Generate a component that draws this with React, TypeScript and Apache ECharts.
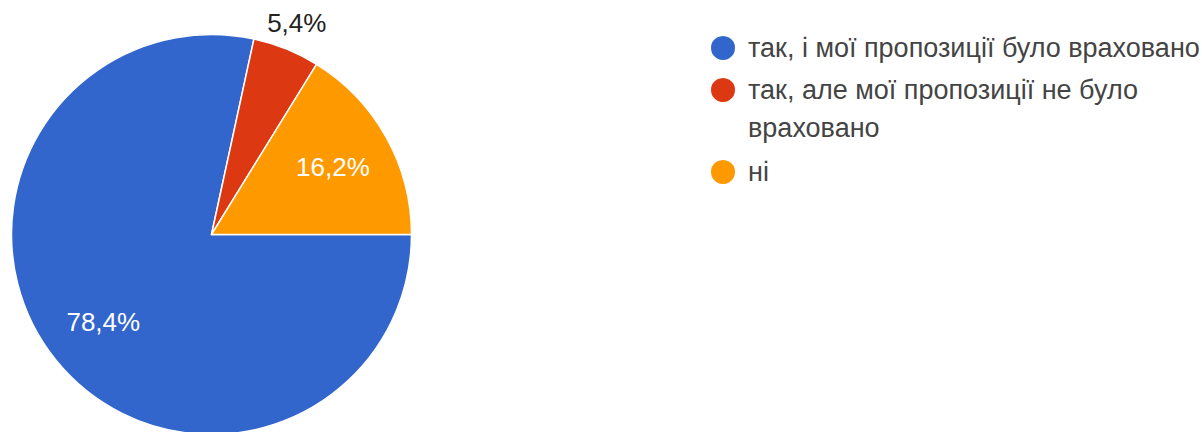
import React, { useEffect, useRef } from "react";
import * as echarts from "echarts";

const categories = [
  "так, і мої пропозиції було враховано",
  "так, але мої пропозиції не було враховано",
  "ні",
];
const percentValues = [78.4, 5.4, 16.2];
const colors = ["#3366CC", "#DC3912", "#FF9900"];

const FONT = "'Liberation Sans', Arial, sans-serif";

export default function App() {
  const ref = useRef<HTMLDivElement>(null);

  useEffect(() => {
    document.body.style.margin = "0";
    if (!ref.current) return;
    const chart = echarts.init(ref.current, undefined, { renderer: "svg" });

    const fmt = (v: number) => v.toFixed(1).replace(".", ",") + "%";
    const center = [211.5, 234.5];
    const R = 200;

    const mainData = categories.map((name, i) => ({
      name,
      value: percentValues[i],
      itemStyle: { color: colors[i] },
    }));

    const helperData = (showIdx: number[]) =>
      categories.map((name, i) => ({
        name,
        value: percentValues[i],
        label: { show: showIdx.includes(i) },
      }));

    const helperBase = {
      type: "pie",
      center,
      startAngle: 0,
      clockwise: true,
      silent: true,
      legendHoverLink: false,
      itemStyle: { color: "rgba(0,0,0,0)", borderWidth: 0 },
      labelLine: { show: false },
      emphasis: { disabled: true },
    };

    const legendCommon = {
      orient: "vertical",
      left: 709,
      padding: 0,
      icon: "circle",
      itemWidth: 40,
      itemHeight: 26,
      selectedMode: false,
      textStyle: {
        fontFamily: FONT,
        fontSize: 27,
        color: "#444444",
        lineHeight: 38,
      },
    };

    chart.setOption({
      animation: false,
      backgroundColor: "#ffffff",
      legend: [
        { ...legendCommon, top: 29, data: [categories[0]] },
        {
          ...legendCommon,
          top: 33,
          data: [categories[1]],
          formatter: () => "\nтак, але мої пропозиції не було\nвраховано",
        },
        { ...legendCommon, top: 153, data: [categories[2]] },
      ],
      series: [
        {
          type: "pie",
          center,
          radius: [0, R],
          startAngle: 0,
          clockwise: true,
          silent: true,
          data: mainData,
          itemStyle: { borderColor: "#ffffff", borderWidth: 1.5 },
          label: { show: false },
          labelLine: { show: false },
        },
        {
          ...helperBase,
          radius: [72, R],
          data: helperData([0, 2]),
          label: {
            position: "inside",
            formatter: (p: any) => fmt(p.value),
            color: "#ffffff",
            fontFamily: FONT,
            fontSize: 26,
          },
        },
        {
          ...helperBase,
          radius: [R, 250],
          data: helperData([1]),
          label: {
            position: "inside",
            formatter: (p: any) => fmt(p.value),
            color: "#222222",
            fontFamily: FONT,
            fontSize: 26,
          },
        },
      ],
    });

    return () => chart.dispose();
  }, []);

  return <div ref={ref} style={{ width: 1202, height: 432 }} />;
}
